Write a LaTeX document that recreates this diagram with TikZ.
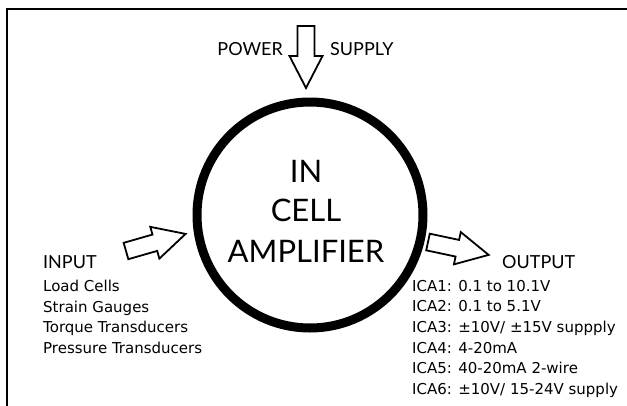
\documentclass[tikz,border=0pt]{standalone}
\usepackage{fontspec}
\setmainfont{DejaVu Sans}
\newfontfamily\headfont{Lato}
\begin{document}
\begin{tikzpicture}[x=1pt,y=-1pt,
  frameline/.style={line width=2.2pt},
  ring/.style={line width=9pt},
  arrowline/.style={line width=1.8pt, line join=miter, fill=white},
  bigtext/.style={font=\headfont\fontsize{31}{31}\selectfont, inner sep=0pt, anchor=base},
  headtext/.style={font=\headfont\fontsize{18}{18}\selectfont, inner sep=0pt, anchor=base west},
  listtext/.style={font=\fontsize{15}{20.6}\selectfont, inner sep=0pt, anchor=north west, align=left},
  blockarrow/.pic={\draw[arrowline] (0,-8.5) -- (30,-8.5) -- (30,-16.5) -- (62,0) -- (30,16.5) -- (30,8.5) -- (0,8.5) -- cycle;}
]
\useasboundingbox (0,0) rectangle (627,405);
% frame (top and left sides only)
\coordinate (fbl) at (7,406);
\coordinate (ftl) at (7,9);
\coordinate (ftr) at (628,9);
\draw[frameline] (fbl) -- (ftl) -- (ftr);
% amplifier circle
\node[circle, draw, ring, minimum size=226pt, inner sep=0pt] (amp) at (310,215) {};
\node[bigtext] (l1) at (306,182) {IN};
\node[bigtext] (l2) at (306,221) {CELL};
\node[bigtext] (l3) at (306,262) {AMPLIFIER};
% power supply
\pic[rotate=-90] (pwr) at (306,26) {blockarrow};
\node[headtext, anchor=base east] (power) at (283,55) {POWER};
\node[headtext] (supply) at (330,55) {SUPPLY};
% input
\pic[rotate=16] (inarr) at (126,251) {blockarrow};
\node[headtext] (input) at (43,268) {INPUT};
\node[listtext] (inlist) at (43,280) {Load Cells\\Strain Gauges\\Torque Transducers\\Pressure Transducers};
% output
\pic[rotate=-12] (outarr) at (428,242) {blockarrow};
\node[headtext] (output) at (502,268) {OUTPUT};
\node[listtext] (outlist) at (412,280) {ICA1: 0.1 to 10.1V\\ICA2: 0.1 to 5.1V\\ICA3: ±10V/ ±15V suppply\\ICA4: 4-20mA\\ICA5: 40-20mA 2-wire\\ICA6: ±10V/ 15-24V supply};
\end{tikzpicture}
\end{document}
